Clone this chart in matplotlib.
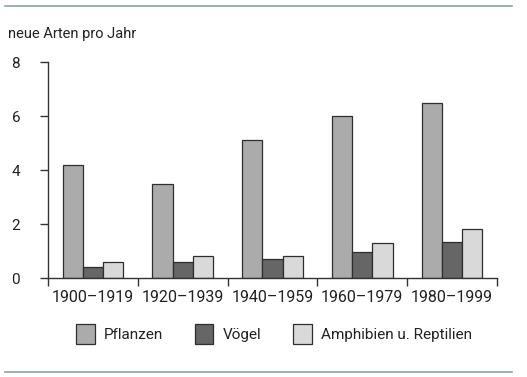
import numpy as np
import matplotlib
matplotlib.use('Agg')
import matplotlib.pyplot as plt
from matplotlib.lines import Line2D

plt.rcParams['font.family'] = ['Roboto', 'DejaVu Sans']

# Daten
zeitraeume = ['1900–1919', '1920–1939', '1940–1959', '1960–1979', '1980–1999']
pflanzen = [4.2, 3.5, 5.1, 6.0, 6.5]
voegel = [0.4, 0.6, 0.7, 0.95, 1.35]
amphibien = [0.6, 0.8, 0.8, 1.3, 1.8]
serien = ['Pflanzen', 'Vögel', 'Amphibien u. Reptilien']
farben = ['#ababab', '#666666', '#d9d9d9']

fig = plt.figure(figsize=(5.27, 3.77), dpi=100)
ax = fig.add_axes([48/527, 1 - 278/377, 449/527, 216/377])

x = np.arange(len(zeitraeume))
w = 0.225
for i, (werte, name, farbe) in enumerate(zip([pflanzen, voegel, amphibien], serien, farben)):
    ax.bar(x + (i - 1) * w, werte, w, color=farbe, edgecolor='#2e2e2e',
           linewidth=0.9, label=name, zorder=2)

ax.set_xlim(-0.5, len(zeitraeume) - 0.5)
ax.set_ylim(0, 8)
ax.spines['top'].set_visible(False)
ax.spines['right'].set_visible(False)
for s in ['left', 'bottom']:
    ax.spines[s].set_color('#333333')
    ax.spines[s].set_linewidth(1.0)

ax.set_yticks([0, 2, 4, 6, 8])
ax.tick_params(axis='y', direction='out', length=6, width=1, color='#333333',
               labelsize=11, labelcolor='#222222', pad=14)

# Gruppengrenzen als Striche, Beschriftung in der Mitte
ax.set_xticks(np.arange(-0.5, len(zeitraeume), 1.0))
ax.set_xticklabels([])
ax.tick_params(axis='x', which='major', direction='out', length=6, width=1, color='#333333')
ax.set_xticks(x, minor=True)
ax.set_xticklabels(zeitraeume, minor=True)
ax.tick_params(axis='x', which='minor', length=0, labelsize=11.5, labelcolor='#222222', pad=9)

fig.text(8/527, 1 - 34/377, 'neue Arten pro Jahr', fontsize=10.5, color='#222222', va='center')

# Trennlinien oben und unten
fig.add_artist(Line2D([5/527, 512/527], [1 - 6/377, 1 - 6/377], color='#8aa0ad', lw=1.2))
fig.add_artist(Line2D([5/527, 512/527], [1 - 372/377, 1 - 372/377], color='#8aa0ad', lw=1.2))

fig.legend(loc='center', bbox_to_anchor=(0.52, 1 - 334/377), ncol=3, frameon=False,
           fontsize=11, handlelength=1.2, handleheight=1.7, columnspacing=2.1,
           handletextpad=0.6, labelcolor='#222222')

fig.savefig('out.png', dpi=100)
